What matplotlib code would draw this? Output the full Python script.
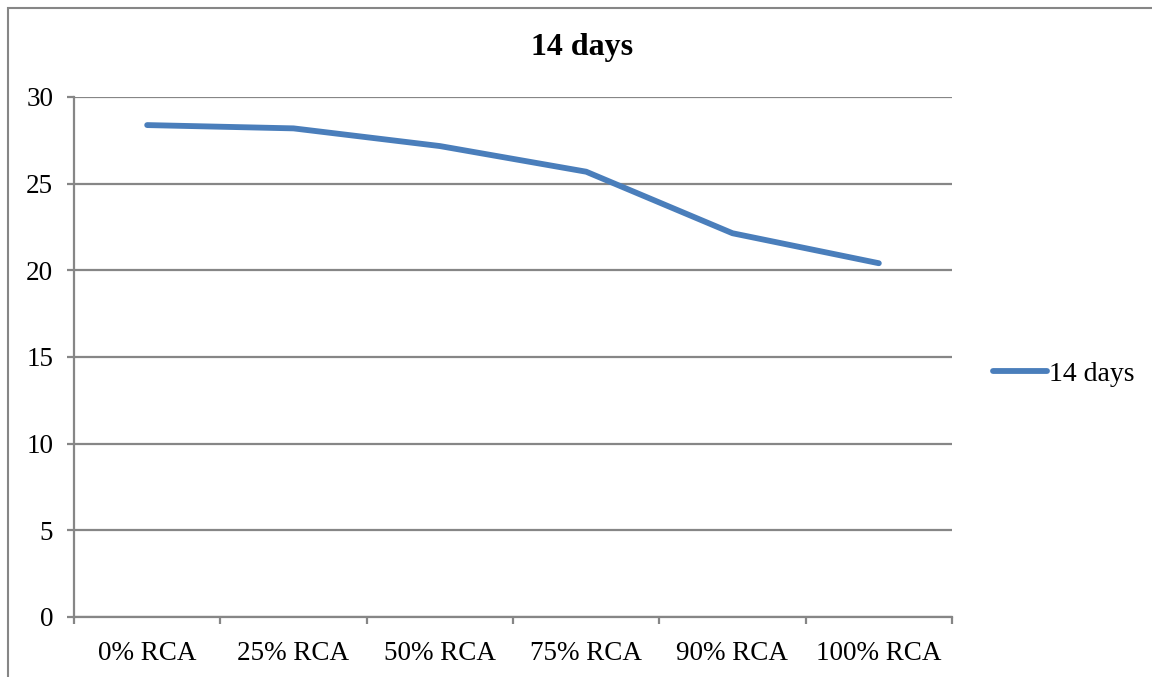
import numpy as np
from matplotlib import pyplot as plt
from matplotlib.patches import Rectangle

categories = ['0% RCA', '25% RCA', '50% RCA', '75% RCA', '90% RCA', '100% RCA']
strength_14_days = [28.38, 28.19, 27.17, 25.69, 22.14, 20.41]
y_ticks = [0, 5, 10, 15, 20, 25, 30]

plt.rcParams['font.family'] = ['Liberation Serif', 'DejaVu Serif']

grey = '#868686'
blue = '#4A7EBB'

fig = plt.figure(figsize=(11.52, 6.77), dpi=100)
ax = fig.add_axes([74 / 1152, 60 / 677, 878 / 1152, 520 / 677])

x = np.arange(len(categories))
line, = ax.plot(x, strength_14_days, color=blue, linewidth=4.2,
                solid_capstyle='round', solid_joinstyle='round', label='14 days')

ax.set_xlim(-0.5, len(categories) - 0.5)
ax.set_ylim(0, 30)
ax.set_yticks(y_ticks)
ax.set_xticks(x)
ax.set_xticklabels(categories)
ax.set_xticks(np.arange(len(categories) + 1) - 0.5, minor=True)

ax.grid(axis='y', color=grey, linewidth=1.6)
ax.set_axisbelow(True)
for side in ('top', 'right'):
    ax.spines[side].set_visible(False)
for side in ('left', 'bottom'):
    ax.spines[side].set_color(grey)
    ax.spines[side].set_linewidth(1.6)

ax.tick_params(axis='x', which='major', length=0, pad=17, labelsize=19.5)
ax.tick_params(axis='x', which='minor', length=5, width=1.6, color=grey)
ax.tick_params(axis='y', length=5, width=1.6, color=grey, pad=10, labelsize=19.5)

fig.text(582 / 1152, 1 - 47 / 677, '14 days', ha='center', va='center',
         fontsize=23, fontweight='bold')

fig.legend(handles=[line], loc='center left', bbox_to_anchor=(968 / 1152, 1 - 374 / 677),
           frameon=False, fontsize=20, handlelength=1.95, handletextpad=0.05)

# chart border, cropped on right and bottom
fig.patches.append(Rectangle((8 / 1152, -0.1), 1.2, 1.1 - 8 / 677,
                             transform=fig.transFigure, fill=False,
                             edgecolor=grey, linewidth=1.5))

fig.savefig('out.png', dpi=100)
